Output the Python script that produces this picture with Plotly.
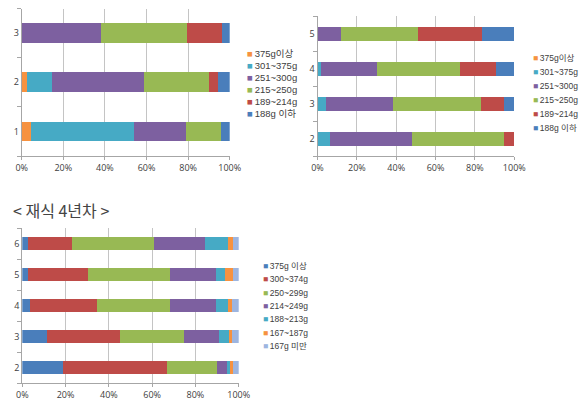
import plotly.graph_objects as go

# The page body adds an 8px margin, so the figure is drawn 8px in from the
# window's top-left corner; positions below are given in window pixels.
WIN_W, WIN_H = 587, 406
OFF = 8
W, H = WIN_W - OFF, WIN_H - OFF

# ---------------- Chart 1 (top-left) ----------------
c1_cats = ["1", "2", "3"]
c1_names = ["375g이상", "301~375g", "251~300g", "215~250g", "189~214g", "188g 이하"]
c1_s375 = [4.3, 2.4, 0.0]
c1_s301 = [49.9, 12.0, 0.0]
c1_s251 = [25.0, 44.2, 37.9]
c1_s215 = [16.8, 31.5, 41.8]
c1_s189 = [0.0, 4.3, 16.8]
c1_s188 = [4.0, 5.6, 3.5]

# ---------------- Chart 2 (top-right) ----------------
c2_cats = ["2", "3", "4", "5"]
c2_names = c1_names
c2_s375 = [0.0, 0.0, 0.0, 0.0]
c2_s301 = [6.4, 4.4, 1.9, 0.0]
c2_s251 = [41.7, 33.9, 28.4, 12.0]
c2_s215 = [46.8, 44.8, 42.1, 39.0]
c2_s189 = [5.1, 11.8, 18.1, 32.7]
c2_s188 = [0.0, 5.1, 9.5, 16.3]

# ---------------- Chart 3 (bottom, 재식 4년차) ----------------
c3_title = "< 재식 4년차 >"
c3_cats = ["2", "3", "4", "5", "6"]
c3_names = ["375g 이상", "300~374g", "250~299g", "214~249g", "188~213g", "167~187g", "167g 미만"]
c3_s375 = [18.6, 11.2, 3.7, 2.5, 2.8]
c3_s300 = [48.4, 34.1, 31.0, 27.7, 20.0]
c3_s250 = [23.0, 29.3, 33.6, 38.1, 38.2]
c3_s214 = [4.8, 16.3, 21.4, 21.2, 23.4]
c3_s188 = [1.3, 4.8, 5.5, 4.3, 10.8]
c3_s167 = [1.1, 1.4, 1.7, 3.7, 2.3]
c3_s166 = [2.8, 2.9, 3.1, 2.5, 2.5]

x_tickvals = [0, 20, 40, 60, 80, 100]
x_ticktext = ["0%", "20%", "40%", "60%", "80%", "100%"]

BLUE = "#4A7EBB"
RED = "#BE4B48"
GREEN = "#98B954"
PURPLE = "#7D60A0"
CYAN = "#46AAC5"
ORANGE = "#F69240"
LBLUE = "#9DB5E0"

c1_colors = [ORANGE, CYAN, PURPLE, GREEN, RED, BLUE]
c3_colors = [BLUE, RED, GREEN, PURPLE, CYAN, ORANGE, LBLUE]

FONT = "Open Sans, Noto Sans CJK KR, sans-serif"
LFONT = "Liberation Sans, Noto Sans CJK KR, sans-serif"
TXT = "#404040"

fig = go.Figure()

def add_series(cats, series, names, colors, xa, ya):
    for vals, name, col in zip(series, names, colors):
        fig.add_trace(go.Bar(
            y=cats, x=vals, name=name, orientation="h",
            marker=dict(color=col, line=dict(width=0)),
            xaxis=xa, yaxis=ya, showlegend=False,
        ))

add_series(c1_cats, [c1_s375, c1_s301, c1_s251, c1_s215, c1_s189, c1_s188],
           c1_names, c1_colors, "x", "y")
add_series(c2_cats, [c2_s375, c2_s301, c2_s251, c2_s215, c2_s189, c2_s188],
           c2_names, c1_colors, "x2", "y2")
add_series(c3_cats, [c3_s375, c3_s300, c3_s250, c3_s214, c3_s188, c3_s167, c3_s166],
           c3_names, c3_colors, "x3", "y3")

def px_x(p):
    return (p - OFF) / W

def px_y(p):
    return 1 - (p - OFF) / H

def xaxis(domain, anchor):
    return dict(
        domain=domain, anchor=anchor, range=[0, 100],
        tickvals=x_tickvals, ticktext=x_ticktext,
        showgrid=True, gridcolor="#C4C4C4", gridwidth=1,
        showline=True, linecolor="#A6A6A6", linewidth=1,
        ticks="outside", ticklen=3, tickcolor="#A6A6A6",
        zeroline=False, fixedrange=True, automargin=False,
        tickfont=dict(family=FONT, size=9, color=TXT),
    )

def yaxis(domain, anchor, cats):
    return dict(
        domain=domain, anchor=anchor, type="category",
        categoryorder="array", categoryarray=cats,
        range=[-0.5, len(cats) - 0.5],
        tickson="boundaries", ticks="outside", ticklen=4, tickcolor="#A6A6A6",
        showline=True, linecolor="#A6A6A6", linewidth=1,
        showgrid=False, zeroline=False, automargin=False,
        tickfont=dict(family=FONT, size=9, color=TXT),
    )

annotations = []

def legend(names, colors, x_px, y0_px, dy, size):
    for i, (n, c) in enumerate(zip(names, colors)):
        annotations.append(dict(
            xref="paper", yref="paper", x=px_x(x_px), y=px_y(y0_px + i * dy),
            xanchor="left", yanchor="middle", showarrow=False,
            text=f"<span style='color:{c}'>■</span>\u2009{n}",
            font=dict(family=LFONT, size=size, color=TXT),
        ))

legend(c1_names, c1_colors, 245, 53.5, 12, 9.5)
legend(c2_names, c1_colors, 531, 58, 14, 8.5)
legend(c3_names, c3_colors, 261, 266, 13.3, 8.5)

annotations.append(dict(
    xref="paper", yref="paper", x=px_x(11), y=px_y(210),
    xanchor="left", yanchor="middle", showarrow=False,
    text=c3_title,
    font=dict(family="Noto Sans CJK KR, sans-serif", size=16, color="#444444"),
))

fig.update_layout(
    width=W, height=H, autosize=False,
    margin=dict(l=0, r=0, t=0, b=0),
    paper_bgcolor="white", plot_bgcolor="white",
    barmode="stack", bargap=0.6,
    xaxis=xaxis([px_x(21.7), px_x(229.7)], "y"),
    yaxis=yaxis([px_y(156), px_y(8.5)], "x", c1_cats),
    xaxis2=xaxis([px_x(317.5), px_x(514.3)], "y2"),
    yaxis2=yaxis([px_y(156), px_y(16)], "x2", c2_cats),
    xaxis3=xaxis([px_x(22.3), px_x(238.7)], "y3"),
    yaxis3=yaxis([px_y(383), px_y(228)], "x3", c3_cats),
    annotations=annotations,
    showlegend=False,
)

fig.write_html("out.html")
